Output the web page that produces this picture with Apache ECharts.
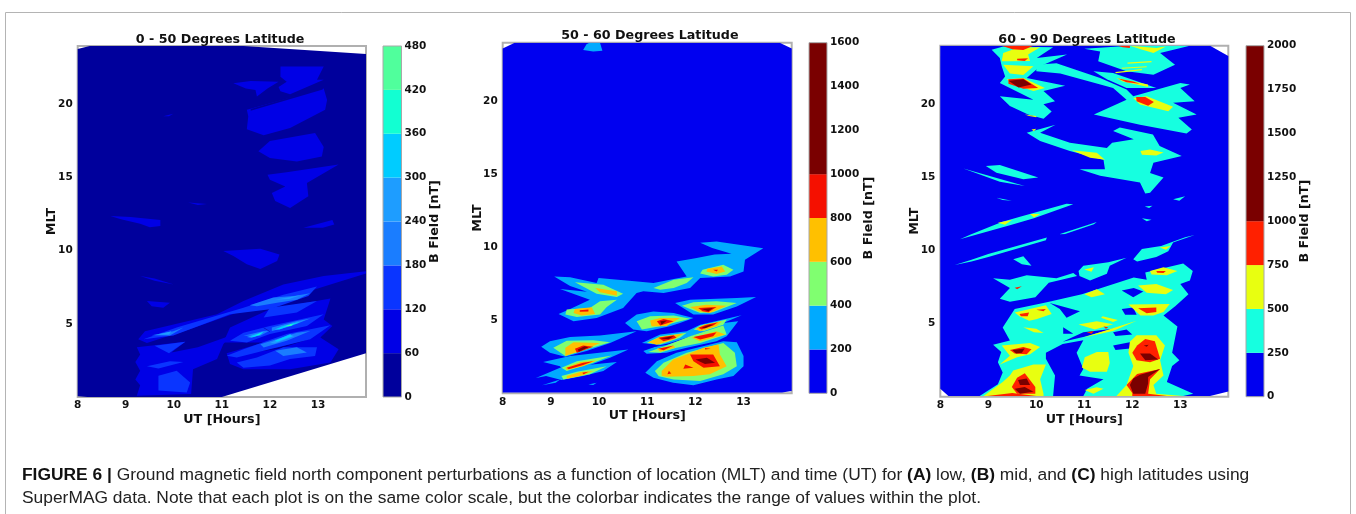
<!DOCTYPE html>
<html><head><meta charset="utf-8">
<style>html,body{margin:0;padding:0;background:#fff}#c{width:1356px;height:514px;filter:blur(0.4px)}</style>
<script src="https://cdn.jsdelivr.net/npm/echarts@6/dist/echarts.min.js"></script>
</head><body><div id="c"></div>
<script>
// Colour-bar levels (nT) and their colours
const boundsA = [0,60,120,180,240,300,360,420,480];
const colorsA = ['#00009c','#0000e6','#0a35ff','#1a7dff','#1e9dff','#00ccff','#12ffd2','#50ff9c'];
const boundsB = [0,200,400,600,800,1000,1600];
const colorsB = ['#0000f0','#00aaff','#80ff70','#ffc000','#f51000','#7a0000'];
const boundsC = [0,250,500,750,1000,2000];
const colorsC = ['#0000f0','#16ffe0','#e8ff10','#ff2000','#7a0000'];
const titles = ['0 - 50 Degrees Latitude','50 - 60 Degrees Latitude','60 - 90 Degrees Latitude'];

// Contour regions: [level index, [UT, MLT, UT, MLT, ...]], painted in order
const hullA = [8,23.8,8.25,24,11.45,24,14,23.45,14,3,11,0,8.2,0,8,0.05];
const hullB = [8,0.05,8,23.6,8.25,24,13.75,24,14,23.6,14,0.15,13.8,0.05];
const hullC = [8,0.55,8,24,13.62,24,14,23.3,14,0.35,13.62,0.05,8.17,0.05];
const regionsA = [
[1,[12.22,22.6,13.12,22.6,12.98,21.7,13.12,21.7,12.42,20.7,12.22,20.9,12.18,21.2,12.35,21.55,12.22,21.9]],
[1,[11.24,21.45,11.6,21.6,12.18,21.55,11.95,21.1,11.73,20.55,11.7,21.0,11.5,21.1]],
[1,[11.52,19.64,13.12,21.1,13.19,20.3,13.15,19.64,12.42,18.4,11.87,17.9,11.52,18.3,11.55,19.2]],
[0,[11.6,19.7,13.1,21.15,13.1,21.03,11.6,19.58]],
[1,[11.76,16.8,12,17.5,12.94,18.05,13.12,17.1,13.08,16.45,12.56,16.1,12,16.35]],
[1,[11.95,15.2,12.35,15.36,13.43,15.9,12.77,14.64,12.8,13.73,12.42,12.93,12.11,13.4,12.04,13.95,12.32,14.4,12,14.86]],
[1,[9.78,19.2,9.99,19.36,9.9,19.2]],
[1,[10.3,13.3,10.69,13.2,10.5,13.12]],
[1,[8.68,12.38,9.1,12.3,9.72,12.1,9.72,11.7,9.5,11.6,9.3,11.85,8.9,12.15]],
[1,[12.7,11.57,13.3,12.1,13.34,11.8,13.1,11.57]],
[1,[11.03,9.98,11.8,10.14,12.2,9.75,12.15,9.3,11.8,8.75,11.52,9.07,11.24,9.64]],
[1,[9.3,8.27,9.6,8.1,10,7.7,9.6,7.95]],
[1,[9.44,6.57,9.92,6.45,9.78,6.1,9.54,6.2]],
[1,[9.26,3.95,9.4,4.5,10.9,5.66,11.45,6.57,12.28,7.7,13.12,8.27,14,8.6,14,8.45,13.26,7.7,12.5,6.9,11.52,6,10.33,4.64,9.44,3.7]],
[1,[11.03,3.73,11.17,4.75,12,6,13.26,6.73,13.12,5.3,13.3,4.86,13.05,4.07,13.43,3.27,13.26,2.36,12.42,1.9,11.45,1.9,11.17,2.25,11.1,3,11.87,3.73]],
[0,[11.5,3.0,12.2,3.3,12.9,4.05,12.2,3.42,11.5,3.08]],
[1,[9.23,3.4,10.24,3.77,9.95,3.05,10.5,3.4,11.17,4.18,11.03,3.6,10.9,2.6,10.4,1.9,10.36,0.2,9.23,0.08,9.3,0.8,9.2,1.2,9.3,1.8,9.2,2.4,9.3,2.9]],
[2,[9.37,3.95,10.06,4.75,11.45,6.1,12.28,7,12.98,7.56,12.8,6.9,12,6,11.17,5.66,9.99,4.2]],
[2,[12,6.1,12.98,6.57,12.56,5.77,11.87,5.43]],
[2,[11.17,3.84,11.45,4.4,12,4.86,13.12,5.66,12.77,4.86,12,4.3,11.52,3.73]],
[2,[11.1,2.82,11.45,3.27,12.35,4.3,13.26,4.9,12.84,3.95,11.87,3.16,11.31,2.7]],
[2,[11.31,2.36,11.73,2.7,12.28,3.4,12.98,3.4,12.94,2.8,12.42,2.6,12,2.15,11.45,2]],
[2,[9.44,2.1,9.92,2.45,10.2,2.4,9.68,1.95]],
[2,[9.68,1.45,10.06,1.8,10.34,1,10.27,0.3,9.68,0.45]],
[2,[9.6,3.5,10.24,3.77,9.9,3.0]],
[3,[9.54,4.22,9.99,4.5,10.2,4.75,9.92,4.2]],
[3,[11.58,6.27,12.07,6.8,12.5,6.9,12.84,7.1,12.56,6.65,12.15,6.45,11.73,6.2]],
[3,[11.45,4.18,11.87,4.52,12,4.55,11.8,4.18]],
[3,[12.04,4.75,12.56,5.2,12.84,5.36,12.42,4.82,12.04,4.52]],
[3,[11.8,3.6,12.56,4.4,12.84,4.52,12.35,3.84,11.87,3.39]],
[3,[12.11,3.16,12.56,3.4,12.77,3.05,12.28,2.8]],
[4,[9.65,4.25,9.95,4.5,9.9,4.28]],
[4,[12.1,6.65,12.45,6.85,12.65,6.98,12.4,6.7]],
[4,[11.52,4.1,11.87,4.48,11.8,4.25,11.62,4.05]],
[4,[12.2,4.8,12.56,5.1,12.76,5.3,12.4,4.85]],
[4,[12.0,3.7,12.42,4.3,12.5,4.15,12.1,3.65]],
[5,[11.6,4.16,11.87,4.46,11.78,4.22,11.66,4.1]],
[5,[12.1,4.62,12.25,4.82,12.55,5.1,12.62,5.1,12.4,4.85,12.2,4.62]],
[5,[12.1,3.85,12.42,4.25,12.46,4.15,12.15,3.78]],
[6,[11.68,4.18,11.85,4.42,11.78,4.25]],
[6,[12.28,4.8,12.5,5.02,12.45,4.88]],
[7,[12.33,4.86,12.45,4.97,12.42,4.88]],
[0,[11.87,4.75,12,4.5,12,4.46,11.87,4.71]]
];
const regionsB = [
[1,[9.67,23.5,9.74,23.9,9.8,24,10.02,24,10.07,23.45,9.88,23.4]],
[1,[9.07,8,9.4,7.95,9.95,7.55,9.99,7.89,10.57,7.73,11.13,7.55,11.82,8,11.61,9.02,12,9.25,12.4,9.5,12.75,9.55,12.35,9.95,12.1,10.3,12.44,10.39,13.41,9.93,13.03,9.14,13,8.34,12.72,8,12.1,7.89,11.89,7.2,11.34,6.86,10.92,6.98,10.78,6.86,10.5,5.84,9.95,5.16,9.47,4.93,9.16,5.43,9.4,5.77,9.81,6.41,9.19,7.14,9.75,6.95,9.4,7.35]],
[2,[9.5,7.61,10.09,7.43,10.5,6.82,10.37,6.59,9.95,6.82]],
[2,[9.33,5.73,9.81,5.84,10.02,6.3,10.37,6.41,10.16,5.9,10.02,5.39,9.54,5.23,9.3,5.39]],
[2,[11.13,7.2,11.55,7.77,11.96,7.95,11.82,7.55,11.55,7.2,11.27,7.09]],
[2,[12.15,8.45,12.58,8.8,12.79,8.45,12.65,8.11,12.37,8,12.1,8.2]],
[3,[9.92,7.2,10.37,6.98,10.37,6.68,10.02,6.91]],
[3,[9.5,5.77,9.85,5.89,9.92,5.43,9.64,5.32,9.47,5.5]],
[3,[12.25,8.52,12.55,8.68,12.62,8.34,12.44,8.16,12.23,8.34]],
[4,[9.6,5.68,9.78,5.73,9.78,5.6,9.6,5.59]],
[4,[12.37,8.45,12.47,8.45,12.44,8.34]],
[1,[10.54,4.82,10.78,5.39,11.13,5.6,11.55,5.5,11.96,5.16,11.68,4.82,11.47,4.59,10.99,4.25,10.71,4.36]],
[2,[10.78,4.93,11.06,5.27,11.55,5.32,11.89,5.11,11.27,4.59,10.89,4.36]],
[3,[11.06,4.98,11.27,5.16,11.68,5.16,11.4,4.59,11.09,4.59]],
[4,[11.2,4.93,11.34,5.09,11.55,4.93,11.27,4.64]],
[5,[11.27,4.93,11.41,4.98,11.3,4.7]],
[1,[11.58,6.18,11.89,6.41,12.86,6.52,13.26,6.59,12.86,5.95,12.37,5.39,11.96,5.39]],
[2,[11.72,6,11.96,6.23,12.44,6.3,12.86,6.18,12.37,5.55,12.1,5.5]],
[3,[11.89,5.91,12.23,6.07,12.65,6,12.3,5.5,12.06,5.61]],
[4,[12.06,5.84,12.44,5.91,12.27,5.55,12.15,5.61]],
[5,[12.13,5.77,12.37,5.84,12.27,5.61]],
[1,[10.89,3.45,11.27,4.02,11.82,4.25,12.1,4.7,12.96,5.34,12.58,4.82,12.89,4.93,12.65,3.91,12.44,3.57,11.82,3.11,11.4,2.77,10.99,2.7,10.92,2.89,11.27,3.3]],
[0,[10.92,3.05,11.4,3.3,11.9,3.85,12.55,4.75,11.98,3.98,11.45,3.42]],
[2,[10.99,3.45,11.27,3.91,11.82,4.14,11.68,3.8,11.27,3.34]],
[3,[11.02,3.5,11.27,3.86,11.75,4.09,11.55,3.68,11.2,3.32]],
[4,[11.23,3.8,11.55,3.98,11.61,3.8,11.34,3.57]],
[5,[11.27,3.75,11.55,3.92,11.45,3.7]],
[2,[11.02,2.82,11.4,3.27,11.89,3.91,12.58,4.64,12.65,4.02,12.1,3.45,11.61,3.11,11.27,2.77]],
[3,[11.2,3.05,11.55,3.27,11.58,3.11,11.27,2.84]],
[4,[11.23,3.05,11.55,3.27,11.34,2.95]],
[3,[11.92,3.8,12.44,4.25,12.62,4.02,12.1,3.57]],
[4,[11.96,3.86,12.44,4.18,12.37,3.91,12.1,3.68]],
[2,[11.96,4.36,12.1,4.64,12.65,5.05,12.58,4.7,12.17,4.25]],
[3,[12.01,4.41,12.17,4.7,12.55,4.93,12.44,4.59,12.1,4.25]],
[4,[12.06,4.48,12.23,4.7,12.47,4.86,12.37,4.64,12.13,4.36]],
[5,[12.13,4.5,12.3,4.7,12.37,4.7,12.2,4.45]],
[1,[10.96,1.41,11.2,2.2,11.61,2.77,12.58,3.57,12.86,3.5,13,2.55,13,1.86,12.79,1.18,12.44,0.95,11.96,0.55,11.54,0.73,11.13,1.07]],
[2,[11.16,1.52,11.34,2.09,11.82,2.77,12.58,3.45,12.82,2.77,12.86,1.86,12.58,1.3,12.1,0.84,11.55,0.95,11.24,1.16]],
[3,[11.3,1.52,11.54,2.32,11.82,2.66,12.17,3.11,12.48,3.34,12.51,2.66,12.65,1.86,12.3,1.3,11.96,1.18,11.4,1.14,11.3,1.2]],
[4,[11.79,1.98,11.96,1.75,11.75,1.68]],
[4,[11.89,2.66,12.37,2.66,12.51,1.86,12.17,1.75,11.96,2.2]],
[4,[12.2,3.1,12.32,3.05,12.2,3.0]],
[4,[11.45,1.55,11.5,1.35,11.42,1.3]],
[5,[12,2.32,12.24,2.43,12.41,2.09,12.2,2]],
[1,[8.8,3.18,8.98,3.57,9.4,3.86,10.02,3.95,10.78,4.25,10.23,3.45,9.74,2.89,9.3,2.5,8.98,2.77]],
[1,[8.84,2.14,9.4,2.55,10.61,3,10.23,2.43,9.74,1.86,9.26,1.48,9.19,1.86]],
[1,[8.69,1.05,9.19,1.75,10.37,2.14,10.09,1.52,9.67,1.18,9.22,0.91,8.9,1.18]],
[1,[8.82,0.55,9.19,0.95,9.1,0.72]],
[1,[9.78,0.6,9.95,0.73,9.88,0.57]],
[2,[9.05,3.11,9.33,3.6,9.88,3.64,10.23,3.5,9.74,3,9.3,2.55]],
[3,[9.3,3.11,9.47,3.5,10.02,3.45,9.74,3.05,9.3,2.55]],
[4,[9.5,3.05,9.67,3.27,9.88,3.18,9.54,2.77]],
[5,[9.56,3.0,9.7,3.22,9.78,3.15,9.58,2.85]],
[2,[9.22,1.75,9.54,2.2,10.27,2.59,9.88,2.09,9.33,1.52]],
[3,[9.3,1.75,9.61,2.14,9.95,2.25,9.67,1.86,9.33,1.59]],
[4,[9.33,1.75,9.67,2.09,9.88,2.2,9.67,1.93,9.37,1.64]],
[2,[9.22,1.18,9.54,1.48,10.16,1.86,9.81,1.3,9.26,0.95]],
[3,[9.33,1.18,9.61,1.45,9.88,1.52,9.67,1.23,9.33,1]],
[4,[9.65,1.41,9.78,1.48,9.68,1.3]]
];
const regionsC = [
[1,[9.07,23.73,9.31,23.95,10.35,23.9,10.01,23.16,10.64,23.4,10.08,22.6,9.8,21.8,10.6,21.27,10.15,20.9,10.39,20.2,10.15,20,10.32,19.5,10.15,19,9.83,19.3,9.45,19.87,9.24,20.55,9.94,20.3,9.24,21.45,9.35,21.9,9.28,22.6,9.24,23.16]],
[1,[10,22.7,10.42,22.8,11.33,21.8,11.88,21,12.02,20.55,13,21.45,13.2,21.35,13,21.1,13.3,20.2,12.85,20.1,13.34,19.3,12.96,19.07,13.24,18.27,13.13,18,12.16,18.6,11.2,19.3,11.88,20.3,11.6,21.1,10.5,22.1,10,22.25]],
[1,[11,23.8,11.95,24,13.2,24,12.58,23.5,12.71,23.16,12.89,22.7,12.44,22.02,11.88,22.25,11.29,22.93,11.33,23.6]],
[1,[11.19,22.25,11.6,22.14,12.5,21.1,11.88,21.1,11.47,21.7]],
[1,[9.8,18.05,10.4,18.6,10.08,18.05,10.7,17.36,11.47,17,11.58,17.36,12.03,17.6,11.6,18.16,11.74,18.4,12.43,17.93,12.57,17.14,13.03,16.45,12.44,16,12.37,15.3,12.65,14.98,12.37,13.95,12.27,13.9,12.16,14.64,11.33,15.1,10.9,15.55,11.43,15.55,11.4,16.2,10.7,16.8,10.08,17.48]],
[1,[8.95,15.77,9.24,15.84,10.04,14.98,9.73,14.86,9.17,15.32]],
[1,[8.48,15.6,9.76,14.4,9.24,14.7]],
[1,[9.17,13.6,9.49,13.4,9.3,13.45]],
[1,[8.41,10.77,8.62,11.07,9.28,11.95,9.66,12.3,10.63,13.2,10.77,13.16,9.95,12.2,9.45,11.72,8.65,10.98]],
[1,[8.3,9,8.65,9.36,9,9.75,10.22,10.89,10.2,10.7,9,9.55,8.65,9.25]],
[1,[10.48,11.1,11.26,11.95,11.2,11.8,10.6,11.12]],
[1,[12.85,13.5,13.1,13.7,12.98,13.4]],
[1,[12.26,13,12.42,13.05,12.35,12.9]],
[1,[12.2,12.2,12.4,12.1,12.3,12]],
[1,[9.52,9.4,9.73,9.6,9.9,8.95,9.7,9.05]],
[1,[12.02,9.4,12.2,10.1,12.6,10.3,13.1,10.9,13.3,11.05,12.85,10.55,12.75,9.95,12.5,9.55,12.1,9.25]],
[1,[10.88,8.6,10.98,8.95,11.5,9.2,11.88,9.5,11.53,8.95,11.47,8.4,11.12,7.95,10.9,8.25]],
[1,[9.1,8.1,9.45,8,9.8,8.3,10.42,8.1,10.77,8.45,10.85,8.25,10.26,7.8,9.98,6.8,9.45,6.5,9.24,6.7,9.45,7.43]],
[1,[10.22,6.45,10.95,7,12.03,8.15,12.3,8,12.27,8.5,13.06,9.1,13.26,8.6,13.2,7.95,13,7.7,13.17,7,12.9,6.2,12.65,5.55,12.94,4.8,12.83,3,12.98,2.5,12.83,2.1,12.72,1,13.27,0.2,13.06,0.05,8.82,0.05,9.2,0.85,9.3,1.65,9.2,2.36,9.27,3.05,9.1,3.55,9.45,3.84,9.3,4.73,9.55,6]],
[0,[10.2,3,10.55,3.6,10.98,3.86,10.84,3,10.98,1.9,10.9,1.45,11.4,1.2,11.06,0.55,10.98,0.05,10.35,0.05,10.39,1.45,10.2,2.6]],
[0,[11.78,7.27,12.03,7.43,12.23,7.2,12.02,6.8]],
[0,[11.78,6,12.02,6.1,12.09,5.6,11.85,5.6]],
[0,[11.6,4.4,11.88,4.6,12,4.25,11.65,4.15]],
[0,[11.6,3.5,12,3.75,11.95,3.3,11.65,3.2]],
[0,[10.28,6.4,10.91,5.85,10.63,5.4,10.49,6]],
[0,[10.56,4.75,10.77,4.3,10.56,4.3]],
[0,[10.55,3.75,10.98,4.4,11.6,4.65,11.0,4.1]],
[2,[9.31,23.5,9.6,23.85,10.08,23.9,9.83,23.4,9.87,22.95,9.45,22.93,9.28,22.93]],
[2,[9.31,22.7,9.94,22.6,9.73,22,9.45,22.1]],
[2,[9.38,21.7,9.73,21.8,10.18,21.1,9.94,20.9,9.52,21.35]],
[2,[9.76,19.3,10,19.2,10,19.1,9.85,19.2]],
[2,[9.9,18.27,10,18.32,9.95,18.15]],
[2,[10.74,16.85,11.26,16.68,11.43,16.2,11.12,16.34]],
[2,[12.17,16.8,12.37,16.9,12.65,16.7,12.5,16.5,12.2,16.55]],
[2,[11.67,21.8,12.33,21.34,12.33,21.18,11.8,21.55]],
[2,[11.78,22.5,12.3,22.6,12.3,22.52,11.78,22.42]],
[2,[11.65,22.2,12.2,22.4,12.2,22.32,11.65,22.12]],
[2,[11.9,22.85,12.4,22.95,12.4,22.87,11.9,22.77]],
[2,[12.02,20.43,12.3,20.55,12.85,19.82,12.75,19.52,12.16,19.98]],
[2,[11.95,24,12.5,23.85,12.7,23.95,12.44,23.5,12.16,23.77]],
[2,[9.2,11.9,9.5,12.1,9.35,11.75]],
[2,[9.87,12.5,10.08,12.5,9.95,12.25]],
[2,[11,8.7,11.2,8.85,11.15,8.55]],
[2,[12.57,10.2,12.8,10.3,12.7,10.05]],
[2,[12.37,8.6,12.65,8.85,12.94,8.6,12.72,8.3,12.4,8.35]],
[2,[12.12,7.6,12.5,7.7,12.85,7.3,12.7,7,12.3,7.1]],
[2,[11,7,11.26,7.35,11.43,7,11.15,6.8]],
[2,[9.55,5.75,10.2,6.25,10.32,5.65,10,5.3,9.85,5.2,9.65,5.5]],
[2,[10.88,4.93,11.26,5.16,11.6,4.95,11.22,4.6]],
[2,[11.38,5.5,11.7,5.25,11.6,5.1,11.35,5.4]],
[2,[11.92,6.3,12.78,6.34,12.65,5.8,12.44,5.55,12.17,5.55]],
[2,[9.73,4.75,10,4.64,10.15,4.35,9.95,4.4]],
[2,[9.28,3.5,9.87,3.68,10.08,3.4,9.87,2.9,9.6,2.7,9.24,2.2,9.45,2.8]],
[2,[8.9,0.05,9.3,1,9.45,1.45,9.52,1.8,9.94,2.2,10.2,2.2,10.08,1.2,10.15,0.2,10.15,0.05]],
[2,[11.88,0.8,12.02,2.1,11.92,3,11.95,3.75,12.09,4.2,12.5,4.2,12.68,3.5,12.58,2.5,12.65,1.45,12.44,0.8,12.5,0.2,13.06,0.05,11.67,0.05]],
[2,[11.01,2.7,11.26,3.05,11.5,3.05,11.53,2.3,11.47,1.7,11.12,1.7,10.95,2]],
[2,[11.01,0.45,11.26,0.65,11.4,0.55,11.19,0.2]],
[2,[10.98,4.05,12.09,5.2,11.6,4.5]],
[3,[9.28,24,9.94,24,9.73,23.7,9.5,23.75]],
[3,[9.6,23.1,9.83,23.15,9.76,22.95,9.6,23]],
[3,[9.42,21.7,9.73,21.75,10.04,21.1,9.73,21.05,9.42,21.4]],
[3,[11.7,24,11.95,24,11.95,23.85,11.8,23.9]],
[3,[11.7,21.75,12.02,21.55,12.16,21.4,11.88,21.5]],
[3,[12.08,20.5,12.27,20.5,12.45,20.15,12.33,19.9,12.09,20.2]],
[3,[9.65,5.65,9.85,5.75,9.82,5.5,9.68,5.5]],
[3,[10.0,5.95,10.2,6.0,10.15,5.85]],
[3,[9.55,7.45,9.7,7.55,9.6,7.35]],
[3,[11.05,4.4,11.2,4.5,11.15,4.3]],
[3,[11.4,4.8,11.5,4.75,11.45,4.65]],
[3,[12.5,8.6,12.7,8.6,12.65,8.45,12.52,8.48]],
[3,[12.12,6.05,12.5,6.1,12.5,5.8,12.3,5.7]],
[3,[9.49,0.66,9.6,1.3,9.76,1.6,9.98,0.66,9.98,0.2,9.6,0.2]],
[3,[8.98,0.05,9.5,0.25,10,0.05]],
[3,[9.45,3.2,9.73,3.4,9.9,3.25,9.8,2.9,9.55,2.95]],
[3,[12.1,3.5,12.27,3.95,12.47,3.8,12.58,2.6,12.37,2.35,12.09,2.5,12,3]],
[3,[11.88,0.8,12.1,1.55,12.58,1.9,12.37,1.2,12.33,0.2,12.72,0.05,12,0.05,12,0.25]],
[4,[9.42,21.6,9.73,21.7,9.9,21.35,9.63,21.15]],
[4,[9.55,0.55,9.76,0.66,9.94,0.33,9.66,0.2]],
[4,[9.62,1.14,9.8,1.25,9.87,0.8,9.66,0.8]],
[4,[9.5,3.2,9.76,3.3,9.7,3,9.58,2.95]],
[4,[12.16,2.95,12.37,2.95,12.54,2.55,12.27,2.5]],
[4,[12.24,3.5,12.34,3.55,12.3,3.42]],
[4,[12.02,1.25,12.16,1.5,12.58,1.9,12.33,1.35,12.33,0.9,12.27,0.2,12.02,0.2,11.95,0.8]]
];

const font = 'DejaVu Sans';
const panels = [
 {left:77.7,top:46,width:288.3,height:351,cb:383,cbw:18.5,bounds:boundsA,colors:colorsA,regions:[[0,hullA]].concat(regionsA),step:60,title:titles[0],gap:27,mlt:20,titleTop:33},
 {left:502.7,top:42.7,width:289,height:350.6,cb:809,cbw:18,bounds:boundsB,colors:colorsB,regions:[[0,hullB]].concat(regionsB),step:200,title:titles[1],gap:35,mlt:19,titleTop:29},
 {left:940.3,top:45.7,width:288,height:351,cb:1246,cbw:18,bounds:boundsC,colors:colorsC,regions:[[0,hullC]].concat(regionsC),step:250,title:titles[2],gap:34.5,mlt:19,titleTop:33}
];
const grid=[],xAxis=[],yAxis=[],series=[],title=[];
const labelStyle={fontFamily:font,fontWeight:'bold',fontSize:10.5,color:'#111'};
const nameStyle={fontFamily:font,fontWeight:'bold',fontSize:12.7,color:'#111'};
panels.forEach((p,i)=>{
  const g=i*2, c=i*2+1;
  grid.push({left:p.left,top:p.top,width:p.width,height:p.height,show:true,borderColor:'#b0b0b0',borderWidth:2,backgroundColor:'#fff',z:0});
  grid.push({left:p.cb,top:p.top,width:p.cbw,height:p.height,show:true,borderColor:'#a8a8a8',borderWidth:1,z:3});
  xAxis.push({type:'value',gridIndex:g,min:8,max:14,interval:1,name:'UT [Hours]',nameLocation:'middle',nameGap:16,nameMoveOverlap:false,nameTextStyle:nameStyle,
    axisLine:{show:false},axisTick:{show:false},splitLine:{show:false},
    axisLabel:{...labelStyle,margin:3,formatter:v=>v<14?String(v):''}});
  yAxis.push({type:'value',gridIndex:g,min:0,max:24,interval:5,name:'MLT',nameLocation:'middle',nameGap:p.mlt,nameMoveOverlap:false,nameRotate:90,nameTextStyle:nameStyle,
    axisLine:{show:false},axisTick:{show:false},splitLine:{show:false},
    axisLabel:{...labelStyle,margin:5,formatter:v=>(v>0&&v<24)?String(v):''}});
  xAxis.push({type:'value',gridIndex:c,min:0,max:1,show:false});
  yAxis.push({type:'value',gridIndex:c,position:'right',min:0,max:p.bounds[p.bounds.length-1],interval:p.step,name:'B Field [nT]',nameLocation:'middle',nameGap:p.gap,nameMoveOverlap:false,nameRotate:90,nameTextStyle:nameStyle,
    axisLine:{show:false},axisTick:{show:false},splitLine:{show:false},axisLabel:{...labelStyle,margin:3,formatter:v=>String(v)}});
  series.push({type:'custom',xAxisIndex:g,yAxisIndex:g,silent:true,clip:true,z:2,animation:false,
    data:p.regions.map(r=>[r[1][0],r[1][1]]),
    renderItem:(params,api)=>{
      const r=p.regions[params.dataIndex], pts=[];
      for(let k=0;k<r[1].length;k+=2) pts.push(api.coord([r[1][k],r[1][k+1]]));
      return {type:'polygon',shape:{points:pts},style:{fill:p.colors[r[0]],stroke:null}};
    }});
  series.push({type:'custom',xAxisIndex:c,yAxisIndex:c,silent:true,z:2,animation:false,
    data:p.colors.map((col,k)=>[0,p.bounds[k],p.bounds[k+1]]),
    renderItem:(params,api)=>{
      const a=api.coord([0,api.value(1)]), b=api.coord([1,api.value(2)]);
      return {type:'rect',shape:{x:a[0],y:b[1],width:b[0]-a[0],height:a[1]-b[1]},style:{fill:p.colors[params.dataIndex]}};
    }});
  title.push({text:p.title,padding:0,left:p.left+p.width/2-86,top:p.titleTop,textStyle:{fontFamily:font,fontWeight:'bold',fontSize:12.7,color:'#111'}});
});
const capStyle={fontFamily:'Liberation Sans',fontSize:17.4,color:'#222',fontWeight:'normal',
  rich:{b:{fontFamily:'Liberation Sans',fontSize:17.4,fontWeight:'bold',color:'#111'}}};
title.push({text:'{b|FIGURE 6 |} Ground magnetic field north component perturbations as a function of location (MLT) and time (UT) for {b|(A)} low, {b|(B)} mid, and {b|(C)} high latitudes using',padding:0,left:22,top:467,textStyle:capStyle});
title.push({text:'SuperMAG data. Note that each plot is on the same color scale, but the colorbar indicates the range of values within the plot.',padding:0,left:22,top:490,textStyle:capStyle});
const chart=echarts.init(document.getElementById('c'),null,{renderer:'canvas'});
chart.setOption({animation:false,backgroundColor:'#fff',grid,xAxis,yAxis,series,title,
  graphic:[{type:'rect',silent:true,shape:{x:5.5,y:12.5,width:1345,height:540},style:{fill:null,stroke:'#b4b4b4',lineWidth:1}}]});
</script></body></html>
